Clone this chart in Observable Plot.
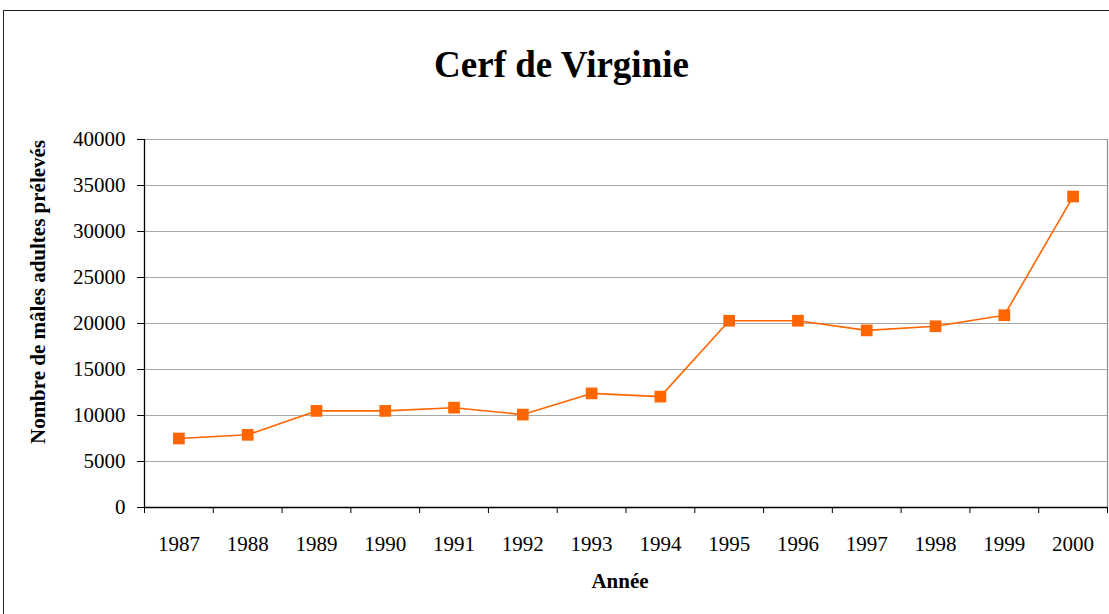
<!DOCTYPE html>
<html><head><meta charset="utf-8">
<script src="https://cdn.jsdelivr.net/npm/d3@7"></script>
<script src="https://cdn.jsdelivr.net/npm/@observablehq/plot@0.6"></script>
<style>
body{margin:0;background:#fff;font-family:"Liberation Serif","Times New Roman",serif;color:#000;}
#wrap{position:relative;width:1109px;height:614px;overflow:hidden;}
#frame{position:absolute;left:3px;top:10px;width:1130px;height:700px;border:1.5px solid #222;box-sizing:border-box;}
#title{position:absolute;left:0;top:46px;width:1123px;text-align:center;font-weight:bold;font-size:37px;line-height:37px;white-space:nowrap;}
#ylab{position:absolute;left:38px;top:292px;transform:translate(-50%,-50%) rotate(-90deg);font-weight:bold;font-size:21px;line-height:21px;white-space:nowrap;}
#xlab{position:absolute;left:0;top:571px;width:1240px;text-align:center;font-weight:bold;font-size:21px;line-height:21px;white-space:nowrap;}
#chart{position:absolute;left:0;top:0;}
</style>
</head><body>
<div id="wrap">
<div id="frame"></div>
<div id="chart"></div>
<div id="title">Cerf de Virginie</div>
<div id="ylab">Nombre de mâles adultes prélevés</div>
<div id="xlab">Année</div>
</div>
<script>
const years = [1987, 1988, 1989, 1990, 1991, 1992, 1993, 1994, 1995, 1996, 1997, 1998, 1999, 2000];
const values = [7500, 7900, 10500, 10500, 10850, 10100, 12400, 12050, 20300, 20300, 19250, 19700, 20900, 33800];
const yTicks = [0, 5000, 10000, 15000, 20000, 25000, 30000, 35000, 40000];
const bandEdges = [1986.5, 1987.5, 1988.5, 1989.5, 1990.5, 1991.5, 1992.5, 1993.5, 1994.5, 1995.5, 1996.5, 1997.5, 1998.5, 1999.5, 2000.5];

const data = years.map((y, i) => ({year: y, value: values[i]}));

const chart = Plot.plot({
  width: 1109,
  height: 614,
  marginTop: 139,
  marginBottom: 107,
  marginLeft: 144,
  marginRight: 2,
  style: {fontFamily: "'Liberation Serif', 'Times New Roman', serif", fontSize: "21px", color: "#000", background: "transparent", overflow: "visible"},
  x: {domain: [bandEdges[0], bandEdges[bandEdges.length - 1]], label: null},
  y: {domain: [0, 40000], label: null},
  marks: [
    Plot.gridY(yTicks, {stroke: "#a8a8a8", strokeOpacity: 1}),
    Plot.ruleX([bandEdges[bandEdges.length - 1]], {stroke: "#8a8a8a", strokeWidth: 1.2}),
    Plot.axisY(yTicks, {tickSize: 7, tickPadding: 12, tickFormat: d => String(d), label: null, stroke: "#000", fill: "#000"}),
    Plot.axisX(bandEdges, {tickSize: 6, tickFormat: () => "", label: null, stroke: "#000"}),
    Plot.axisX(years, {tickSize: 0, tickPadding: 29, tickFormat: d => String(d), label: null, fill: "#000"}),
    Plot.ruleY([0], {stroke: "#000", strokeWidth: 1.3}),
    Plot.ruleX([bandEdges[0]], {stroke: "#000", strokeWidth: 1.3}),
    Plot.line(data, {x: "year", y: "value", stroke: "#ff6600", strokeWidth: 1.6}),
    Plot.dot(data, {x: "year", y: "value", symbol: "square", fill: "#ff6600", stroke: "none", r: 6.6})
  ]
});
document.getElementById("chart").appendChild(chart);
</script>
</body></html>
